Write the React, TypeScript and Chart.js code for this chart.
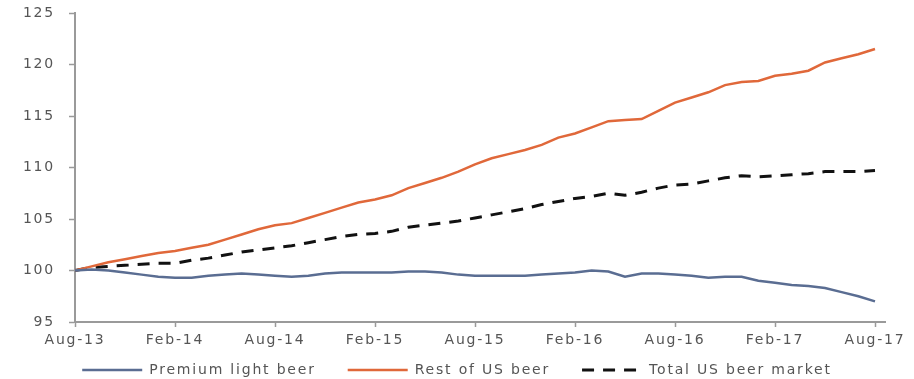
import React, { useEffect, useRef } from "react";
import { Chart, registerables } from "chart.js";

Chart.register(...registerables);

const months = [
  "Aug-13", "Sep-13", "Oct-13", "Nov-13", "Dec-13", "Jan-14", "Feb-14", "Mar-14", "Apr-14", "May-14", "Jun-14", "Jul-14",
  "Aug-14", "Sep-14", "Oct-14", "Nov-14", "Dec-14", "Jan-15", "Feb-15", "Mar-15", "Apr-15", "May-15", "Jun-15", "Jul-15",
  "Aug-15", "Sep-15", "Oct-15", "Nov-15", "Dec-15", "Jan-16", "Feb-16", "Mar-16", "Apr-16", "May-16", "Jun-16", "Jul-16",
  "Aug-16", "Sep-16", "Oct-16", "Nov-16", "Dec-16", "Jan-17", "Feb-17", "Mar-17", "Apr-17", "May-17", "Jun-17", "Jul-17",
  "Aug-17",
];

const tickLabels = ["Aug-13", "Feb-14", "Aug-14", "Feb-15", "Aug-15", "Feb-16", "Aug-16", "Feb-17", "Aug-17"];

const premiumLight = [
  100.0, 100.1, 100.0, 99.8, 99.6, 99.4, 99.3, 99.3, 99.5, 99.6, 99.7, 99.6,
  99.5, 99.4, 99.5, 99.7, 99.8, 99.8, 99.8, 99.8, 99.9, 99.9, 99.8, 99.6,
  99.5, 99.5, 99.5, 99.5, 99.6, 99.7, 99.8, 100.0, 99.9, 99.4, 99.7, 99.7,
  99.6, 99.5, 99.3, 99.4, 99.4, 99.0, 98.8, 98.6, 98.5, 98.3, 97.9, 97.5,
  97.0,
];

const restOfUS = [
  100.0, 100.4, 100.8, 101.1, 101.4, 101.7, 101.9, 102.2, 102.5, 103.0, 103.5, 104.0,
  104.4, 104.6, 105.1, 105.6, 106.1, 106.6, 106.9, 107.3, 108.0, 108.5, 109.0, 109.6,
  110.3, 110.9, 111.3, 111.7, 112.2, 112.9, 113.3, 113.9, 114.5, 114.6, 114.7, 115.5,
  116.3, 116.8, 117.3, 118.0, 118.3, 118.4, 118.9, 119.1, 119.4, 120.2, 120.6, 121.0,
  121.5,
];

const totalUS = [
  100.0, 100.3, 100.4, 100.5, 100.6, 100.7, 100.7, 101.0, 101.2, 101.5, 101.8, 102.0,
  102.2, 102.4, 102.7, 103.0, 103.3, 103.5, 103.6, 103.8, 104.2, 104.4, 104.6, 104.8,
  105.1, 105.4, 105.7, 106.0, 106.4, 106.7, 107.0, 107.2, 107.5, 107.3, 107.6, 108.0,
  108.3, 108.4, 108.7, 109.0, 109.2, 109.1, 109.2, 109.3, 109.4, 109.6, 109.6, 109.6,
  109.7,
];

const seriesNames = ["Premium light beer", "Rest of US beer", "Total US beer market"];

const FONT = "'DejaVu Sans', sans-serif";
const TEXT = "#555555";
const AXIS = "#9a9a9a";
const LETTER_SPACING = "1.8px";

const spacingPlugin = {
  id: "letterSpacing",
  beforeUpdate(chart: any) {
    chart.ctx.letterSpacing = LETTER_SPACING;
  },
  beforeDraw(chart: any) {
    chart.ctx.letterSpacing = LETTER_SPACING;
  },
};

export default function App() {
  const ref = useRef<HTMLCanvasElement | null>(null);

  useEffect(() => {
    if (!ref.current) return;
    const toXY = (arr: number[]) => arr.map((y, i) => ({ x: i, y }));
    const chart = new Chart(ref.current, {
      type: "line",
      plugins: [spacingPlugin],
      data: {
        datasets: [
          {
            label: seriesNames[0],
            data: toXY(premiumLight),
            borderColor: "#5a6d92",
            backgroundColor: "#5a6d92",
            borderWidth: 2.5,
            pointRadius: 0,
            tension: 0,
          },
          {
            label: seriesNames[1],
            data: toXY(restOfUS),
            borderColor: "#e0683a",
            backgroundColor: "#e0683a",
            borderWidth: 2.5,
            pointRadius: 0,
            tension: 0,
          },
          {
            label: seriesNames[2],
            data: toXY(totalUS),
            borderColor: "#111111",
            backgroundColor: "#111111",
            borderWidth: 3,
            borderDash: [12, 9],
            pointRadius: 0,
            tension: 0,
          },
        ],
      },
      options: {
        animation: false,
        responsive: false,
        maintainAspectRatio: false,
        layout: { padding: { top: 13, left: 29, right: 29, bottom: -8 } },
        plugins: {
          tooltip: { enabled: false },
          legend: {
            position: "bottom",
            labels: {
              usePointStyle: true,
              pointStyle: "line",
              pointStyleWidth: 60,
              boxWidth: 60,
              boxHeight: 14,
              padding: 32,
              color: TEXT,
              font: { family: FONT, size: 14 },
              generateLabels: (c: any) => {
                const items = Chart.defaults.plugins.legend.labels.generateLabels(c);
                return items.map((it: any, i: number) => {
                  const ds: any = c.data.datasets[i];
                  return {
                    ...it,
                    pointStyle: "line",
                    strokeStyle: ds.borderColor,
                    fillStyle: ds.borderColor,
                    lineWidth: ds.borderWidth,
                    lineDash: ds.borderDash || [],
                    fontColor: TEXT,
                  };
                });
              },
            },
          },
        },
        scales: {
          x: {
            type: "linear",
            min: 0,
            max: 48.6,
            afterBuildTicks: (scale: any) => {
              scale.ticks = tickLabels.map((_, k) => ({ value: k * 6 }));
            },
            afterFit: (scale: any) => {
              scale.height = 9;
              scale._computeLabelArea = () => undefined;
            },
            ticks: {
              autoSkip: false,
              maxRotation: 0,
              color: TEXT,
              padding: 5,
              font: { family: FONT, size: 14 },
              callback: (v: any) => months[Number(v)] ?? "",
            },
            grid: { drawOnChartArea: false, drawTicks: true, tickLength: 5, color: AXIS, tickWidth: 1.5 },
            border: { display: true, color: AXIS, width: 2 },
          },
          y: {
            min: 95,
            max: 125,
            afterFit: (scale: any) => {
              scale.width = 46;
              scale.paddingTop = 0;
              scale.paddingBottom = 0;
              scale._computeLabelArea = () => undefined;
            },
            ticks: {
              stepSize: 5,
              color: TEXT,
              padding: 14,
              font: { family: FONT, size: 14 },
            },
            grid: { drawOnChartArea: false, drawTicks: true, tickLength: 6, color: AXIS, tickWidth: 1.5 },
            border: { display: true, color: AXIS, width: 2 },
          },
        },
      },
    });
    return () => chart.destroy();
  }, []);

  return (
    <div style={{ position: "fixed", left: 0, top: 0, width: 914, height: 379, background: "#fff" }}>
      <canvas ref={ref} width={914} height={379} style={{ width: 914, height: 379 }} />
    </div>
  );
}
